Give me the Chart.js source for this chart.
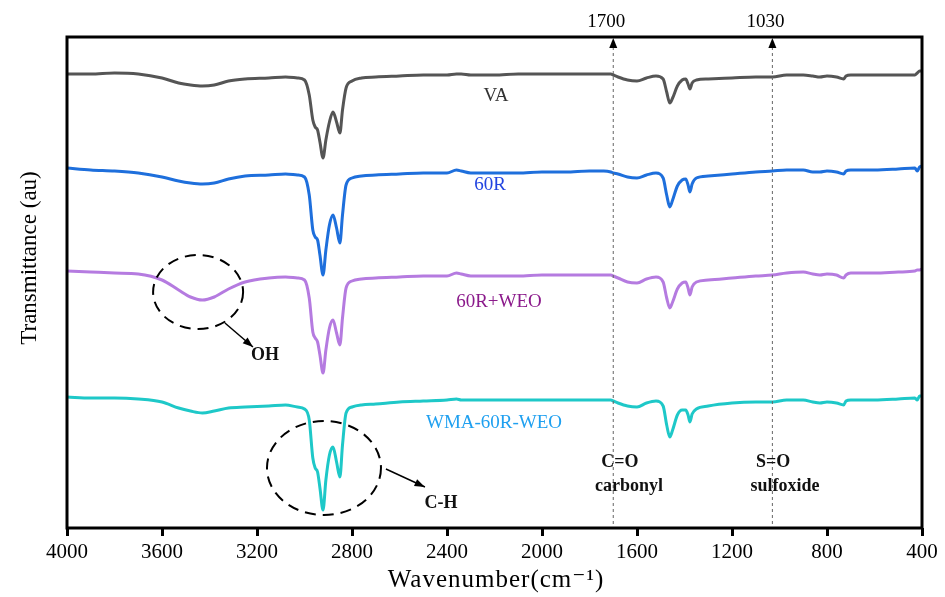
<!DOCTYPE html>
<html>
<head>
<meta charset="utf-8">
<script src="https://cdn.jsdelivr.net/npm/chart.js@4"></script>
<style>
  html, body { margin: 0; padding: 0; background: #fff; }
  canvas { display: block; }
</style>
</head>
<body>
<canvas id="ftirChart" width="945" height="597"></canvas>
<script>
/* ---------- DATA (arbitrary transmittance units) ---------- */
const wavenumbers = [
  4000, 3900, 3800, 3700, 3600, 3530, 3480, 3430, 3380, 3320,
  3250, 3150, 3080, 3030, 3000, 2980, 2965, 2955, 2945, 2935,
  2922, 2910, 2895, 2880, 2865, 2851, 2840, 2825, 2800, 2760,
  2700, 2600, 2500, 2400, 2360, 2340, 2300, 2200, 2100, 2000,
  1900, 1800, 1740, 1710, 1700, 1680, 1640, 1600, 1560, 1520,
  1490, 1475, 1462, 1450, 1430, 1410, 1395, 1385, 1377, 1368,
  1350, 1300, 1200, 1100, 1030, 970, 900, 860, 830, 800,
  760, 730, 720, 700, 600, 500, 430, 420, 410, 400
];

const vaValues = [
  454, 454, 455, 454, 450, 445, 443, 442, 443, 447,
  449, 450, 451, 450, 448, 433, 408, 401, 398, 386,
  370, 388, 406, 416, 406, 395, 418, 440, 447, 450,
  451, 452, 453, 453, 454, 454, 453, 453, 454, 454,
  454, 454, 454, 454, 453, 451, 448, 447, 450, 452,
  449, 436, 425, 430, 442, 448, 449, 444, 439, 445,
  448, 449, 450, 451, 451, 453, 453, 452, 451, 452,
  451, 449, 452, 453, 453, 453, 453, 455, 457, 457
];

const r60Values = [
  360, 358, 357, 355, 351, 347, 345, 344, 345, 349,
  352, 353, 354, 353, 351, 333, 298, 291, 288, 273,
  253, 278, 303, 313, 300, 285, 313, 343, 350, 352,
  353, 354, 355, 355, 358, 357, 355, 355, 355, 356,
  356, 357, 357, 356, 355, 354, 351, 350, 353, 355,
  350, 333, 321, 328, 342, 348, 349, 343, 336, 344,
  350, 352, 354, 356, 357, 358, 358, 356, 356, 357,
  356, 354, 357, 358, 358, 359, 360, 357, 361, 362
];

const weoValues = [
  257, 256, 255, 254, 248, 238, 231, 228, 231, 239,
  246, 250, 251, 250, 248, 230, 196, 190, 186, 173,
  155, 178, 200, 208, 195, 183, 210, 240, 247, 249,
  250, 251, 252, 252, 255, 254, 252, 252, 252, 253,
  253, 253, 253, 253, 252, 250, 246, 245, 249, 251,
  246, 230, 220, 226, 239, 245, 246, 240, 233, 241,
  246, 248, 250, 252, 253, 255, 256, 254, 253, 254,
  253, 250, 253, 255, 255, 256, 257, 258, 258, 259
];

const wmaValues = [
  131, 130, 130, 129, 126, 120, 117, 115, 117, 120,
  121, 122, 123, 121, 119, 108, 70, 60, 56, 40,
  18, 48, 73, 81, 66, 51, 83, 115, 121, 123,
  124, 126, 127, 128, 129, 128, 128, 128, 128, 128,
  128, 128, 128, 128, 127, 125, 122, 121, 125, 127,
  122, 103, 91, 98, 113, 118, 118, 113, 106, 114,
  119, 122, 125, 126, 126, 128, 128, 126, 125, 126,
  125, 123, 127, 128, 128, 129, 130, 128, 132, 132
];

const seriesNames = ['VA', '60R', '60R+WEO', 'WMA-60R-WEO'];
const seriesValues = [vaValues, r60Values, weoValues, wmaValues];
const lineColors = ['#555555', '#1e6fdc', '#b57be0', '#1ec8c8'];

// curve labels: [wavenumber, value]
const labelSpots = [[2194, 432], [2219, 343], [2181, 226], [2202, 105]];
const labelColors = ['#333333', '#2244e0', '#8b1a8b', '#1fa0f0'];

const markerLines = [1700, 1030];

const SERIF = "'Liberation Serif', 'DejaVu Serif', serif";

/* ---------- ANNOTATION PLUGIN ---------- */
const annotations = {
  id: 'annotations',
  afterDatasetsDraw(chart) {
    const { ctx, chartArea: a, scales: { x, y } } = chart;
    ctx.save();

    // dashed marker lines with arrowheads at the top
    markerLines.forEach(wn => {
      const px = x.getPixelForValue(wn);
      ctx.strokeStyle = '#666';
      ctx.lineWidth = 1;
      ctx.setLineDash([3, 3]);
      ctx.beginPath();
      ctx.moveTo(px, a.top + 10);
      ctx.lineTo(px, a.bottom);
      ctx.stroke();
      ctx.setLineDash([]);
      ctx.fillStyle = '#000';
      ctx.beginPath();
      ctx.moveTo(px, a.top + 1);
      ctx.lineTo(px - 4, a.top + 11);
      ctx.lineTo(px + 4, a.top + 11);
      ctx.closePath();
      ctx.fill();
      ctx.font = `19px ${SERIF}`;
      ctx.textAlign = 'center';
      ctx.textBaseline = 'middle';
      ctx.fillText(String(wn), px - 7, a.top - 15);
    });

    // curve labels
    ctx.font = `19px ${SERIF}`;
    ctx.textAlign = 'center';
    ctx.textBaseline = 'middle';
    seriesNames.forEach((name, i) => {
      ctx.fillStyle = labelColors[i];
      ctx.fillText(name, x.getPixelForValue(labelSpots[i][0]), y.getPixelForValue(labelSpots[i][1]));
    });

    // dashed circles
    const ellipse = (wn, v, rx, ry) => {
      ctx.strokeStyle = '#000';
      ctx.lineWidth = 2;
      ctx.setLineDash([11, 7]);
      ctx.beginPath();
      ctx.ellipse(x.getPixelForValue(wn), y.getPixelForValue(v), rx, ry, 0, 0, Math.PI * 2);
      ctx.stroke();
      ctx.setLineDash([]);
    };
    ellipse(3448, 236, 45, 37);
    ellipse(2918, 60, 57, 47);

    // arrows
    const arrow = (w1, v1, w2, v2) => {
      const x1 = x.getPixelForValue(w1), y1 = y.getPixelForValue(v1);
      const x2 = x.getPixelForValue(w2), y2 = y.getPixelForValue(v2);
      const ang = Math.atan2(y2 - y1, x2 - x1);
      ctx.strokeStyle = '#000';
      ctx.fillStyle = '#000';
      ctx.lineWidth = 1.5;
      ctx.beginPath();
      ctx.moveTo(x1, y1);
      ctx.lineTo(x2, y2);
      ctx.stroke();
      ctx.beginPath();
      ctx.moveTo(x2, y2);
      ctx.lineTo(x2 - 11 * Math.cos(ang - 0.35), y2 - 11 * Math.sin(ang - 0.35));
      ctx.lineTo(x2 - 11 * Math.cos(ang + 0.35), y2 - 11 * Math.sin(ang + 0.35));
      ctx.closePath();
      ctx.fill();
    };
    arrow(3335, 205, 3217, 181);
    arrow(2657, 59, 2493, 41);

    // bold band labels
    ctx.fillStyle = '#111';
    ctx.font = `bold 18px ${SERIF}`;
    [['OH', 3166, 173], ['C-H', 2425, 25], ['C=O', 1672, 66], ['carbonyl', 1634, 42],
     ['S=O', 1027, 66], ['sulfoxide', 977, 42]].forEach(([t, wn, v]) => {
      ctx.fillText(t, x.getPixelForValue(wn), y.getPixelForValue(v));
    });

    // frame
    ctx.strokeStyle = '#000';
    ctx.lineWidth = 3;
    ctx.strokeRect(a.left, a.top, a.right - a.left, a.bottom - a.top);

    // axis titles
    ctx.fillStyle = '#000';
    ctx.font = `25px ${SERIF}`;
    ctx.letterSpacing = '1px';
    ctx.fillText('Wavenumber(cm⁻¹)', 496, 580);
    ctx.letterSpacing = '0px';

    ctx.save();
    ctx.translate(30, 258);
    ctx.rotate(-Math.PI / 2);
    ctx.font = `23px ${SERIF}`;
    ctx.fillText('Transmittance (au)', 0, 0);
    ctx.restore();

    ctx.restore();
  }
};

/* ---------- CHART ---------- */
new Chart(document.getElementById('ftirChart'), {
  type: 'line',
  data: {
    datasets: seriesNames.map((name, i) => ({
      label: name,
      data: wavenumbers.map((wn, j) => ({ x: wn, y: seriesValues[i][j] })),
      borderColor: lineColors[i],
      borderWidth: 3,
      pointRadius: 0,
      cubicInterpolationMode: 'monotone',
      fill: false
    }))
  },
  options: {
    responsive: false,
    animation: false,
    layout: { padding: { left: 0, right: 23, top: 37, bottom: 0 } },
    plugins: { legend: { display: false }, tooltip: { enabled: false } },
    scales: {
      x: {
        type: 'linear',
        reverse: true,
        min: 400,
        max: 4000,
        afterFit: s => { s.height = 69; },
        ticks: {
          stepSize: 400,
          color: '#000',
          padding: 4,
          maxRotation: 0,
          font: { family: SERIF, size: 21 },
          callback: v => String(v)
        },
        grid: { drawOnChartArea: false, drawTicks: true, tickLength: 8, lineWidth: 3, color: '#000' },
        border: { display: false },
        title: { display: false }
      },
      y: {
        min: 0,
        max: 491,
        afterFit: s => { s.width = 67; },
        ticks: { display: false },
        grid: { display: false },
        border: { display: false }
      }
    }
  },
  plugins: [annotations]
});
</script>
</body>
</html>
